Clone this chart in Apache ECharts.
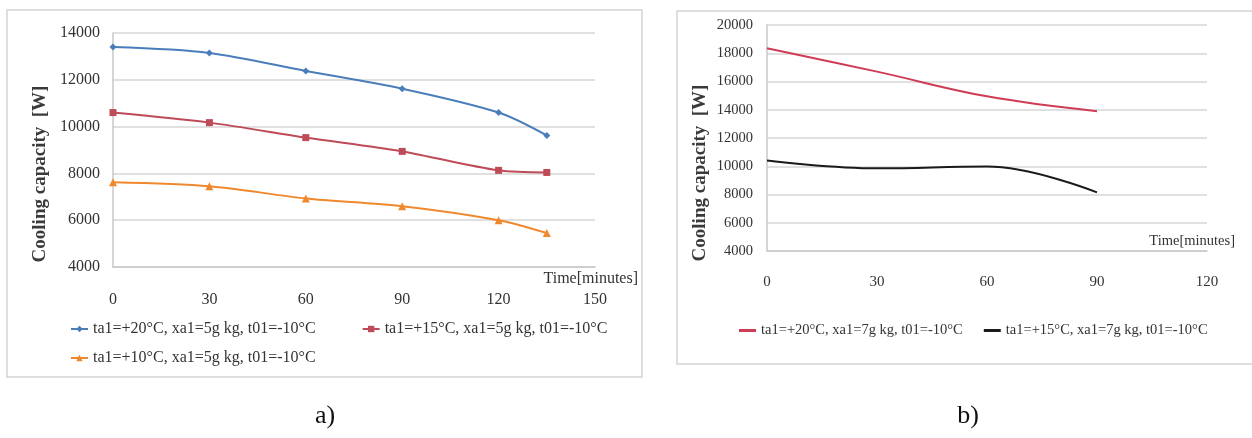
<!DOCTYPE html>
<html>
<head>
<meta charset="utf-8">
<script src="https://cdn.jsdelivr.net/npm/echarts@6/dist/echarts.min.js"></script>
<style>
  html, body { margin: 0; padding: 0; background: #fff; }
  #main { width: 1252px; height: 438px; }
</style>
</head>
<body>
<div id="main"></div>
<script>
// panel a) data
const timeA = [0, 30, 60, 90, 120, 135]
const blueA = [13400, 13150, 12380, 11620, 10600, 9620]
const redA = [10600, 10170, 9530, 8940, 8130, 8040]
const orangeA = [7620, 7450, 6930, 6600, 6000, 5450]
const namesA = ['ta1=+20°C, xa1=5g kg, t01=-10°C', 'ta1=+15°C, xa1=5g kg, t01=-10°C', 'ta1=+10°C, xa1=5g kg, t01=-10°C']

// panel b) data
const timeB = [0, 30, 60, 90]
const redB = [18350, 16700, 14950, 13900]
const blackB = [10400, 9850, 9980, 8150]
const namesB = ['ta1=+20°C, xa1=7g kg, t01=-10°C', 'ta1=+15°C, xa1=7g kg, t01=-10°C']

const font = '"Liberation Serif", "Times New Roman", serif'
const txt = '#333'

function pairs(xs, ys) {
  return xs.map((x, i) => [x, ys[i]])
}
// plain numbers, no thousands separator
const plain = v => String(v)

const chart = echarts.init(document.getElementById('main'))

chart.setOption({
  backgroundColor: '#fff',
  animation: false,
  textStyle: { fontFamily: font, color: txt },
  grid: [
    { left: 113, top: 33, width: 482, height: 234 },
    { left: 767, top: 25, width: 440, height: 226 }
  ],
  xAxis: [
    {
      gridIndex: 0, type: 'value', min: 0, max: 150, interval: 30,
      axisLine: { show: true, lineStyle: { color: '#c8c8c8', width: 1.5 } },
      axisTick: { show: false },
      splitLine: { show: false },
      axisLabel: { margin: 25, fontSize: 16, color: txt, fontFamily: font, formatter: plain }
    },
    {
      gridIndex: 1, type: 'value', min: 0, max: 120, interval: 30,
      axisLine: { show: true, lineStyle: { color: '#c8c8c8', width: 1.5 } },
      axisTick: { show: false },
      splitLine: { show: false },
      axisLabel: { margin: 24, fontSize: 15, color: txt, fontFamily: font, formatter: plain }
    }
  ],
  yAxis: [
    {
      gridIndex: 0, type: 'value', min: 4000, max: 14000, interval: 2000,
      axisLine: { show: true, lineStyle: { color: '#c8c8c8', width: 1.5 } },
      axisTick: { show: false },
      splitLine: { lineStyle: { color: '#d6d6d6', width: 1.5 } },
      axisLabel: { margin: 13, fontSize: 16, color: txt, fontFamily: font, formatter: plain }
    },
    {
      gridIndex: 1, type: 'value', min: 4000, max: 20000, interval: 2000,
      axisLine: { show: true, lineStyle: { color: '#c8c8c8', width: 1.5 } },
      axisTick: { show: false },
      splitLine: { lineStyle: { color: '#d6d6d6', width: 1.5 } },
      axisLabel: { margin: 14, fontSize: 14.5, color: txt, fontFamily: font, formatter: plain }
    }
  ],
  legend: [
    {
      data: [namesA[0], namesA[1]], left: 65, top: 316, itemGap: 46,
      itemWidth: 17, itemHeight: 8,
      textStyle: { fontSize: 16, color: txt, fontFamily: font }
    },
    {
      data: [namesA[2]], left: 65, top: 345,
      itemWidth: 17, itemHeight: 8,
      textStyle: { fontSize: 16, color: txt, fontFamily: font }
    },
    {
      data: namesB, left: 734, top: 318, itemGap: 21,
      icon: 'rect', itemWidth: 17, itemHeight: 3,
      textStyle: { fontSize: 14.5, color: txt, fontFamily: font }
    }
  ],
  graphic: [
    { type: 'rect', shape: { x: 7, y: 10, width: 635, height: 367 },
      style: { fill: 'none', stroke: '#d4d4d4', lineWidth: 1.5 }, z: -1 },
    { type: 'rect', shape: { x: 677, y: 11, width: 590, height: 353 },
      style: { fill: 'none', stroke: '#d4d4d4', lineWidth: 1.5 }, z: -1 },
    // y axis titles
    { type: 'text', x: 40, y: 174, rotation: Math.PI / 2,
      style: { text: 'Cooling capacity  [W]', font: 'bold 19px ' + font, fill: '#3a3a3a', align: 'center', verticalAlign: 'middle' } },
    { type: 'text', x: 700, y: 173, rotation: Math.PI / 2,
      style: { text: 'Cooling capacity  [W]', font: 'bold 19px ' + font, fill: '#3a3a3a', align: 'center', verticalAlign: 'middle' } },
    { type: 'text', x: 638, y: 279,
      style: { text: 'Time[minutes]', font: '16px ' + font, fill: txt, align: 'right', verticalAlign: 'middle' } },
    { type: 'text', x: 1235, y: 241,
      style: { text: 'Time[minutes]', font: '14.5px ' + font, fill: txt, align: 'right', verticalAlign: 'middle' } },
    { type: 'text', x: 325, y: 416,
      style: { text: 'a)', font: '26px ' + font, fill: '#111', align: 'center', verticalAlign: 'middle' } },
    { type: 'text', x: 968, y: 416,
      style: { text: 'b)', font: '26px ' + font, fill: '#111', align: 'center', verticalAlign: 'middle' } }
  ],
  series: [
    {
      name: namesA[0], type: 'line', xAxisIndex: 0, yAxisIndex: 0,
      data: pairs(timeA, blueA), smooth: 0.3,
      symbol: 'diamond', symbolSize: 7,
      lineStyle: { color: '#4a7ebb', width: 2 }, itemStyle: { color: '#4a7ebb' }
    },
    {
      name: namesA[1], type: 'line', xAxisIndex: 0, yAxisIndex: 0,
      data: pairs(timeA, redA), smooth: 0.3,
      symbol: 'rect', symbolSize: 7,
      lineStyle: { color: '#be4b58', width: 2 }, itemStyle: { color: '#be4b58' }
    },
    {
      name: namesA[2], type: 'line', xAxisIndex: 0, yAxisIndex: 0,
      data: pairs(timeA, orangeA), smooth: 0.3,
      symbol: 'triangle', symbolSize: 8,
      lineStyle: { color: '#f0892e', width: 2 }, itemStyle: { color: '#f0892e' }
    },
    {
      name: namesB[0], type: 'line', xAxisIndex: 1, yAxisIndex: 1,
      data: pairs(timeB, redB), smooth: 0.4, symbol: 'none',
      lineStyle: { color: '#cf3c55', width: 2 }, itemStyle: { color: '#cf3c55' }
    },
    {
      name: namesB[1], type: 'line', xAxisIndex: 1, yAxisIndex: 1,
      data: pairs(timeB, blackB), smooth: 0.4, symbol: 'none',
      lineStyle: { color: '#1a1a1a', width: 2 }, itemStyle: { color: '#1a1a1a' }
    }
  ]
})
</script>
</body>
</html>
